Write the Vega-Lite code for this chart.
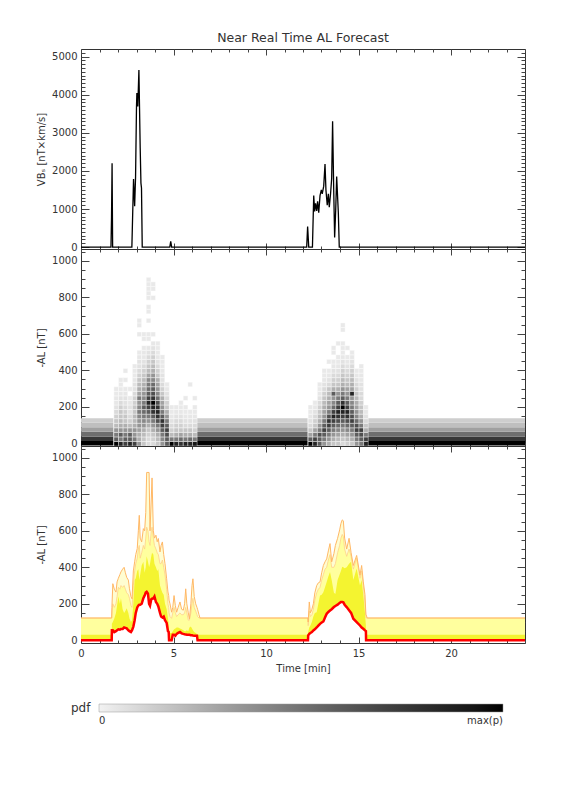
{
"$schema": "https://vega.github.io/schema/vega-lite/v6.json",
"autosize": {"type": "none"},
"padding": {"left": 81, "top": 49, "right": 495, "bottom": 743},
"background": "white",
"bounds": "flush",
"spacing": 0,
"config": {
  "view": {"stroke": "#333", "strokeWidth": 1},
  "axis": {"domain": false, "grid": false, "labelFont": "DejaVu Sans", "labelFontSize": 10, "labelColor": "#333", "tickColor": "#444", "tickWidth": 1, "titleFont": "DejaVu Sans", "titleFontSize": 10, "titleFontWeight": "normal", "titleColor": "#333", "labelOverlap": false, "labelFlush": false}
},
"vconcat": [
{
  "width": 444, "height": 200,
  "title": {"text": "Near Real Time AL Forecast", "font": "DejaVu Sans", "fontSize": 12.5, "fontWeight": "normal", "color": "#333", "anchor": "middle", "frame": "group", "offset": 3},
  "data": {"values": [
    {"t":0,"v":0},{"t":1.62,"v":0},{"t":1.65,"v":780},{"t":1.68,"v":2200},{"t":1.71,"v":0},
    {"t":2.75,"v":0},{"t":2.84,"v":1790},{"t":2.9,"v":1070},{"t":2.95,"v":1850},{"t":3.0,"v":3700},{"t":3.02,"v":4045},{"t":3.07,"v":3690},{"t":3.13,"v":4650},{"t":3.2,"v":2600},{"t":3.24,"v":1680},{"t":3.27,"v":1550},{"t":3.31,"v":0},
    {"t":4.8,"v":0},{"t":4.85,"v":150},{"t":4.9,"v":0},
    {"t":12.2,"v":0},{"t":12.25,"v":540},{"t":12.31,"v":0},{"t":12.51,"v":0},{"t":12.58,"v":1356},{"t":12.63,"v":936},{"t":12.68,"v":1150},{"t":12.74,"v":950},{"t":12.79,"v":1200},{"t":12.85,"v":900},{"t":12.92,"v":1350},{"t":12.99,"v":1500},{"t":13.04,"v":1400},{"t":13.12,"v":1600},{"t":13.19,"v":2180},{"t":13.24,"v":1500},{"t":13.31,"v":1100},{"t":13.37,"v":1400},{"t":13.42,"v":1050},{"t":13.49,"v":1400},{"t":13.55,"v":1800},{"t":13.6,"v":3300},{"t":13.66,"v":1500},{"t":13.71,"v":250},{"t":13.77,"v":1000},{"t":13.82,"v":1850},{"t":13.91,"v":900},{"t":13.96,"v":0},{"t":24,"v":0}
  ]},
  "layer": [
    {"mark": {"type": "line", "color": "#000", "strokeWidth": 1.3, "clip": true},
     "encoding": {
       "x": {"field": "t", "type": "quantitative", "scale": {"domain": [0, 24], "nice": false, "zero": false},
             "axis": {"orient": "bottom", "values": [0,1,2,3,4,5,6,7,8,9,10,11,12,13,14,15,16,17,18,19,20,21,22,23,24], "labels": false, "title": null, "tickSize": {"condition": {"test": "datum.value % 5 === 0", "value": -6}, "value": -3}}},
       "y": {"field": "v", "type": "quantitative", "scale": {"domain": [-50, 5200], "nice": false, "zero": false},
             "axis": {"orient": "left", "values": [0,100,200,300,400,500,600,700,800,900,1000,1100,1200,1300,1400,1500,1600,1700,1800,1900,2000,2100,2200,2300,2400,2500,2600,2700,2800,2900,3000,3100,3200,3300,3400,3500,3600,3700,3800,3900,4000,4100,4200,4300,4400,4500,4600,4700,4800,4900,5000,5100], "format": "d", "labelExpr": "datum.value % 1000 === 0 ? datum.label : ''", "labelPadding": 12, "title": "VBₛ [nT×km/s]", "titlePadding": 5, "tickSize": {"condition": {"test": "datum.value % 1000 === 0", "value": -8}, "value": -4}}}
     }},
    {"mark": {"type": "point", "opacity": 0},
     "encoding": {
       "x": {"field": "t", "type": "quantitative",
             "axis": {"orient": "top", "values": [0,1,2,3,4,5,6,7,8,9,10,11,12,13,14,15,16,17,18,19,20,21,22,23,24], "labels": false, "title": null, "tickSize": {"condition": {"test": "datum.value % 5 === 0", "value": -6}, "value": -3}}},
       "y": {"field": "v", "type": "quantitative",
             "axis": {"orient": "right", "values": [0,100,200,300,400,500,600,700,800,900,1000,1100,1200,1300,1400,1500,1600,1700,1800,1900,2000,2100,2200,2300,2400,2500,2600,2700,2800,2900,3000,3100,3200,3300,3400,3500,3600,3700,3800,3900,4000,4100,4200,4300,4400,4500,4600,4700,4800,4900,5000,5100], "labels": false, "title": null, "tickSize": {"condition": {"test": "datum.value % 1000 === 0", "value": -8}, "value": -4}}}
     }}
  ],
  "resolve": {"axis": {"x": "independent", "y": "independent"}}
},
{
  "width": 444, "height": 197,
  "layer": [
    {"data": {"values": [
      {"t0":0,"t1":1.75,"a0":-12.5,"a1":12.5,"p":1},{"t0":0,"t1":1.75,"a0":12.5,"a1":37.5,"p":0.83},{"t0":0,"t1":1.75,"a0":37.5,"a1":62.5,"p":0.64},{"t0":0,"t1":1.75,"a0":62.5,"a1":87.5,"p":0.46},{"t0":0,"t1":1.75,"a0":87.5,"a1":112.5,"p":0.33},{"t0":0,"t1":1.75,"a0":112.5,"a1":137.5,"p":0.26},
      {"t0":6.25,"t1":12.25,"a0":-12.5,"a1":12.5,"p":1},{"t0":6.25,"t1":12.25,"a0":12.5,"a1":37.5,"p":0.83},{"t0":6.25,"t1":12.25,"a0":37.5,"a1":62.5,"p":0.64},{"t0":6.25,"t1":12.25,"a0":62.5,"a1":87.5,"p":0.46},{"t0":6.25,"t1":12.25,"a0":87.5,"a1":112.5,"p":0.33},{"t0":6.25,"t1":12.25,"a0":112.5,"a1":137.5,"p":0.26},
      {"t0":15.5,"t1":24,"a0":-12.5,"a1":12.5,"p":1},{"t0":15.5,"t1":24,"a0":12.5,"a1":37.5,"p":0.83},{"t0":15.5,"t1":24,"a0":37.5,"a1":62.5,"p":0.64},{"t0":15.5,"t1":24,"a0":62.5,"a1":87.5,"p":0.46},{"t0":15.5,"t1":24,"a0":87.5,"a1":112.5,"p":0.33},{"t0":15.5,"t1":24,"a0":112.5,"a1":137.5,"p":0.26}
     ]},
     "mark": {"type": "rect", "clip": true},
     "encoding": {
       "x": {"field": "t0", "type": "quantitative", "scale": {"domain": [0, 24], "nice": false, "zero": false},
             "axis": {"orient": "bottom", "values": [0,1,2,3,4,5,6,7,8,9,10,11,12,13,14,15,16,17,18,19,20,21,22,23,24], "labels": false, "title": null, "tickSize": {"condition": {"test": "datum.value % 5 === 0", "value": -6}, "value": -3}}},
       "x2": {"field": "t1"},
       "y": {"field": "a0", "type": "quantitative", "scale": {"domain": [-15, 1065], "nice": false, "zero": false},
             "axis": {"orient": "left", "values": [0,50,100,150,200,250,300,350,400,450,500,550,600,650,700,750,800,850,900,950,1000,1050], "format": "d", "labelExpr": "datum.value % 200 === 0 ? datum.label : ''", "labelPadding": 12, "title": "-AL [nT]", "titlePadding": 5, "tickSize": {"condition": {"test": "datum.value % 200 === 0", "value": -8}, "value": -4}}},
       "y2": {"field": "a1"},
       "color": {"field": "p", "type": "quantitative", "scale": {"type": "pow", "exponent": 1.5, "domain": [0, 1], "range": ["#f2f2f2", "#000000"]},
                 "legend": {"title": "pdf", "orient": "none", "legendX": -10, "legendY": 655, "direction": "horizontal", "gradientLength": 404, "gradientThickness": 8, "titleOrient": "left", "titleFont": "DejaVu Sans", "titleFontSize": 12, "titleFontWeight": "normal", "titleColor": "#333", "titlePadding": 8, "labelFont": "DejaVu Sans", "labelFontSize": 10, "labelColor": "#333", "values": [0, 1], "labelExpr": "datum.value == 0 ? '0' : 'max(p)'", "gradientStrokeColor": "#999", "gradientStrokeWidth": 0.5, "labelOffset": 4}}
     }},
    {"data": {"values": [
      {"t":1.85,"a":0,"p":1},{"t":1.85,"a":25,"p":0.7},{"t":1.85,"a":50,"p":0.6},{"t":1.85,"a":75,"p":0.5},{"t":1.85,"a":100,"p":0.35},{"t":1.85,"a":125,"p":0.3},{"t":1.85,"a":150,"p":0.25},{"t":1.85,"a":175,"p":0.2},{"t":1.85,"a":200,"p":0.15},{"t":1.85,"a":225,"p":0.12},{"t":1.85,"a":250,"p":0.12},{"t":1.85,"a":275,"p":0.1},{"t":1.85,"a":300,"p":0.1},
      {"t":2.1,"a":0,"p":0.9},{"t":2.1,"a":25,"p":0.6},{"t":2.1,"a":50,"p":0.7},{"t":2.1,"a":75,"p":0.5},{"t":2.1,"a":100,"p":0.4},{"t":2.1,"a":125,"p":0.35},{"t":2.1,"a":150,"p":0.3},{"t":2.1,"a":175,"p":0.3},{"t":2.1,"a":200,"p":0.25},{"t":2.1,"a":225,"p":0.2},{"t":2.1,"a":250,"p":0.15},{"t":2.1,"a":275,"p":0.12},{"t":2.1,"a":300,"p":0.1},{"t":2.1,"a":325,"p":0.1},{"t":2.1,"a":350,"p":0.1},
      {"t":2.35,"a":0,"p":0.8},{"t":2.35,"a":25,"p":0.7},{"t":2.35,"a":50,"p":0.6},{"t":2.35,"a":75,"p":0.5},{"t":2.35,"a":100,"p":0.4},{"t":2.35,"a":125,"p":0.3},{"t":2.35,"a":150,"p":0.3},{"t":2.35,"a":175,"p":0.25},{"t":2.35,"a":200,"p":0.2},{"t":2.35,"a":225,"p":0.15},{"t":2.35,"a":250,"p":0.15},{"t":2.35,"a":275,"p":0.12},{"t":2.35,"a":300,"p":0.1},{"t":2.35,"a":350,"p":0.1},{"t":2.35,"a":400,"p":0.1},
      {"t":2.6,"a":0,"p":0.9},{"t":2.6,"a":25,"p":0.7},{"t":2.6,"a":50,"p":0.7},{"t":2.6,"a":75,"p":0.5},{"t":2.6,"a":100,"p":0.35},{"t":2.6,"a":125,"p":0.25},{"t":2.6,"a":150,"p":0.2},{"t":2.6,"a":175,"p":0.15},{"t":2.6,"a":200,"p":0.15},{"t":2.6,"a":225,"p":0.12},{"t":2.6,"a":250,"p":0.1},{"t":2.6,"a":300,"p":0.1},
      {"t":2.85,"a":0,"p":0.8},{"t":2.85,"a":25,"p":0.6},{"t":2.85,"a":50,"p":0.5},{"t":2.85,"a":75,"p":0.5},{"t":2.85,"a":100,"p":0.4},{"t":2.85,"a":125,"p":0.35},{"t":2.85,"a":150,"p":0.35},{"t":2.85,"a":175,"p":0.3},{"t":2.85,"a":200,"p":0.3},{"t":2.85,"a":225,"p":0.25},{"t":2.85,"a":250,"p":0.25},{"t":2.85,"a":275,"p":0.2},{"t":2.85,"a":300,"p":0.15},{"t":2.85,"a":325,"p":0.15},{"t":2.85,"a":350,"p":0.12},{"t":2.85,"a":375,"p":0.1},{"t":2.85,"a":400,"p":0.1},{"t":2.85,"a":425,"p":0.1},
      {"t":3.1,"a":0,"p":0.5},{"t":3.1,"a":25,"p":0.4},{"t":3.1,"a":50,"p":0.4},{"t":3.1,"a":75,"p":0.45},{"t":3.1,"a":100,"p":0.5},{"t":3.1,"a":125,"p":0.5},{"t":3.1,"a":150,"p":0.55},{"t":3.1,"a":175,"p":0.6},{"t":3.1,"a":200,"p":0.55},{"t":3.1,"a":225,"p":0.5},{"t":3.1,"a":250,"p":0.6},{"t":3.1,"a":275,"p":0.45},{"t":3.1,"a":300,"p":0.4},{"t":3.1,"a":325,"p":0.35},{"t":3.1,"a":350,"p":0.3},{"t":3.1,"a":375,"p":0.25},{"t":3.1,"a":400,"p":0.2},{"t":3.1,"a":425,"p":0.15},{"t":3.1,"a":450,"p":0.15},{"t":3.1,"a":475,"p":0.12},{"t":3.1,"a":500,"p":0.1},{"t":3.1,"a":600,"p":0.1},{"t":3.1,"a":650,"p":0.1},{"t":3.1,"a":675,"p":0.1},
      {"t":3.35,"a":0,"p":0.3},{"t":3.35,"a":25,"p":0.3},{"t":3.35,"a":50,"p":0.35},{"t":3.35,"a":75,"p":0.4},{"t":3.35,"a":100,"p":0.5},{"t":3.35,"a":125,"p":0.55},{"t":3.35,"a":150,"p":0.6},{"t":3.35,"a":175,"p":0.65},{"t":3.35,"a":200,"p":0.7},{"t":3.35,"a":225,"p":0.6},{"t":3.35,"a":250,"p":0.55},{"t":3.35,"a":275,"p":0.5},{"t":3.35,"a":300,"p":0.45},{"t":3.35,"a":325,"p":0.4},{"t":3.35,"a":350,"p":0.35},{"t":3.35,"a":375,"p":0.3},{"t":3.35,"a":400,"p":0.25},{"t":3.35,"a":425,"p":0.2},{"t":3.35,"a":450,"p":0.15},{"t":3.35,"a":475,"p":0.12},{"t":3.35,"a":500,"p":0.12},{"t":3.35,"a":525,"p":0.1},{"t":3.35,"a":575,"p":0.1},{"t":3.35,"a":600,"p":0.1},
      {"t":3.6,"a":0,"p":0.2},{"t":3.6,"a":25,"p":0.2},{"t":3.6,"a":50,"p":0.25},{"t":3.6,"a":75,"p":0.3},{"t":3.6,"a":100,"p":0.4},{"t":3.6,"a":125,"p":0.5},{"t":3.6,"a":150,"p":0.6},{"t":3.6,"a":175,"p":0.7},{"t":3.6,"a":200,"p":0.8},{"t":3.6,"a":225,"p":0.9},{"t":3.6,"a":250,"p":0.8},{"t":3.6,"a":275,"p":0.7},{"t":3.6,"a":300,"p":0.65},{"t":3.6,"a":325,"p":0.6},{"t":3.6,"a":350,"p":0.55},{"t":3.6,"a":375,"p":0.45},{"t":3.6,"a":400,"p":0.35},{"t":3.6,"a":425,"p":0.3},{"t":3.6,"a":450,"p":0.25},{"t":3.6,"a":475,"p":0.2},{"t":3.6,"a":500,"p":0.15},{"t":3.6,"a":525,"p":0.12},{"t":3.6,"a":575,"p":0.1},{"t":3.6,"a":600,"p":0.1},{"t":3.6,"a":675,"p":0.1},{"t":3.6,"a":725,"p":0.1},{"t":3.6,"a":750,"p":0.1},{"t":3.6,"a":800,"p":0.1},{"t":3.6,"a":825,"p":0.1},{"t":3.6,"a":850,"p":0.1},{"t":3.6,"a":875,"p":0.1},{"t":3.6,"a":900,"p":0.1},
      {"t":3.85,"a":0,"p":0.2},{"t":3.85,"a":25,"p":0.25},{"t":3.85,"a":50,"p":0.3},{"t":3.85,"a":75,"p":0.4},{"t":3.85,"a":100,"p":0.5},{"t":3.85,"a":125,"p":0.6},{"t":3.85,"a":150,"p":0.7},{"t":3.85,"a":175,"p":0.85},{"t":3.85,"a":200,"p":0.9},{"t":3.85,"a":225,"p":1},{"t":3.85,"a":250,"p":0.85},{"t":3.85,"a":275,"p":0.75},{"t":3.85,"a":300,"p":0.7},{"t":3.85,"a":325,"p":0.65},{"t":3.85,"a":350,"p":0.55},{"t":3.85,"a":375,"p":0.5},{"t":3.85,"a":400,"p":0.4},{"t":3.85,"a":425,"p":0.35},{"t":3.85,"a":450,"p":0.3},{"t":3.85,"a":475,"p":0.25},{"t":3.85,"a":500,"p":0.2},{"t":3.85,"a":525,"p":0.15},{"t":3.85,"a":550,"p":0.12},{"t":3.85,"a":600,"p":0.1},{"t":3.85,"a":800,"p":0.1},{"t":3.85,"a":850,"p":0.1},{"t":3.85,"a":875,"p":0.1},
      {"t":4.1,"a":0,"p":0.3},{"t":4.1,"a":25,"p":0.35},{"t":4.1,"a":50,"p":0.4},{"t":4.1,"a":75,"p":0.5},{"t":4.1,"a":100,"p":0.6},{"t":4.1,"a":125,"p":0.75},{"t":4.1,"a":150,"p":0.85},{"t":4.1,"a":175,"p":0.9},{"t":4.1,"a":200,"p":0.85},{"t":4.1,"a":225,"p":0.75},{"t":4.1,"a":250,"p":0.65},{"t":4.1,"a":275,"p":0.55},{"t":4.1,"a":300,"p":0.5},{"t":4.1,"a":325,"p":0.45},{"t":4.1,"a":350,"p":0.4},{"t":4.1,"a":375,"p":0.3},{"t":4.1,"a":400,"p":0.25},{"t":4.1,"a":425,"p":0.2},{"t":4.1,"a":450,"p":0.15},{"t":4.1,"a":475,"p":0.12},{"t":4.1,"a":500,"p":0.1},{"t":4.1,"a":525,"p":0.1},{"t":4.1,"a":550,"p":0.1},
      {"t":4.35,"a":0,"p":0.5},{"t":4.35,"a":25,"p":0.55},{"t":4.35,"a":50,"p":0.6},{"t":4.35,"a":75,"p":0.7},{"t":4.35,"a":100,"p":0.8},{"t":4.35,"a":125,"p":0.85},{"t":4.35,"a":150,"p":0.7},{"t":4.35,"a":175,"p":0.6},{"t":4.35,"a":200,"p":0.5},{"t":4.35,"a":225,"p":0.45},{"t":4.35,"a":250,"p":0.4},{"t":4.35,"a":275,"p":0.3},{"t":4.35,"a":300,"p":0.25},{"t":4.35,"a":325,"p":0.2},{"t":4.35,"a":350,"p":0.15},{"t":4.35,"a":375,"p":0.15},{"t":4.35,"a":400,"p":0.12},{"t":4.35,"a":425,"p":0.1},{"t":4.35,"a":450,"p":0.1},{"t":4.35,"a":475,"p":0.1},
      {"t":4.6,"a":0,"p":0.7},{"t":4.6,"a":25,"p":0.7},{"t":4.6,"a":50,"p":0.75},{"t":4.6,"a":75,"p":0.8},{"t":4.6,"a":100,"p":0.7},{"t":4.6,"a":125,"p":0.6},{"t":4.6,"a":150,"p":0.5},{"t":4.6,"a":175,"p":0.4},{"t":4.6,"a":200,"p":0.3},{"t":4.6,"a":225,"p":0.25},{"t":4.6,"a":250,"p":0.2},{"t":4.6,"a":275,"p":0.15},{"t":4.6,"a":300,"p":0.12},{"t":4.6,"a":325,"p":0.1},
      {"t":4.85,"a":0,"p":1},{"t":4.85,"a":25,"p":0.6},{"t":4.85,"a":50,"p":0.35},{"t":4.85,"a":75,"p":0.25},{"t":4.85,"a":100,"p":0.2},{"t":4.85,"a":125,"p":0.15},{"t":4.85,"a":150,"p":0.12},{"t":4.85,"a":175,"p":0.1},{"t":4.85,"a":200,"p":0.1},
      {"t":5.1,"a":0,"p":0.9},{"t":5.1,"a":25,"p":0.6},{"t":5.1,"a":50,"p":0.4},{"t":5.1,"a":75,"p":0.3},{"t":5.1,"a":100,"p":0.25},{"t":5.1,"a":125,"p":0.2},{"t":5.1,"a":150,"p":0.15},{"t":5.1,"a":175,"p":0.12},{"t":5.1,"a":200,"p":0.1},
      {"t":5.35,"a":0,"p":0.85},{"t":5.35,"a":25,"p":0.65},{"t":5.35,"a":50,"p":0.45},{"t":5.35,"a":75,"p":0.3},{"t":5.35,"a":100,"p":0.25},{"t":5.35,"a":125,"p":0.2},{"t":5.35,"a":150,"p":0.15},{"t":5.35,"a":175,"p":0.12},{"t":5.35,"a":200,"p":0.1},{"t":5.35,"a":225,"p":0.1},
      {"t":5.6,"a":0,"p":0.9},{"t":5.6,"a":25,"p":0.6},{"t":5.6,"a":50,"p":0.4},{"t":5.6,"a":75,"p":0.3},{"t":5.6,"a":100,"p":0.2},{"t":5.6,"a":125,"p":0.15},{"t":5.6,"a":150,"p":0.12},{"t":5.6,"a":175,"p":0.1},{"t":5.6,"a":200,"p":0.1},{"t":5.6,"a":250,"p":0.1},
      {"t":5.85,"a":0,"p":0.9},{"t":5.85,"a":25,"p":0.65},{"t":5.85,"a":50,"p":0.4},{"t":5.85,"a":75,"p":0.3},{"t":5.85,"a":100,"p":0.2},{"t":5.85,"a":125,"p":0.15},{"t":5.85,"a":150,"p":0.12},{"t":5.85,"a":175,"p":0.1},{"t":5.85,"a":325,"p":0.1},
      {"t":6.1,"a":0,"p":0.95},{"t":6.1,"a":25,"p":0.6},{"t":6.1,"a":50,"p":0.35},{"t":6.1,"a":75,"p":0.25},{"t":6.1,"a":100,"p":0.2},{"t":6.1,"a":125,"p":0.15},{"t":6.1,"a":150,"p":0.12},{"t":6.1,"a":175,"p":0.1},{"t":6.1,"a":200,"p":0.1},{"t":6.1,"a":250,"p":0.1},
      {"t":12.35,"a":0,"p":1},{"t":12.35,"a":25,"p":0.7},{"t":12.35,"a":50,"p":0.45},{"t":12.35,"a":75,"p":0.3},{"t":12.35,"a":100,"p":0.2},{"t":12.35,"a":125,"p":0.15},{"t":12.35,"a":150,"p":0.12},{"t":12.35,"a":175,"p":0.1},{"t":12.35,"a":200,"p":0.1},
      {"t":12.6,"a":0,"p":0.9},{"t":12.6,"a":25,"p":0.8},{"t":12.6,"a":50,"p":0.6},{"t":12.6,"a":75,"p":0.45},{"t":12.6,"a":100,"p":0.3},{"t":12.6,"a":125,"p":0.25},{"t":12.6,"a":150,"p":0.2},{"t":12.6,"a":175,"p":0.15},{"t":12.6,"a":200,"p":0.12},{"t":12.6,"a":225,"p":0.1},
      {"t":12.85,"a":0,"p":0.7},{"t":12.85,"a":25,"p":0.7},{"t":12.85,"a":50,"p":0.75},{"t":12.85,"a":75,"p":0.6},{"t":12.85,"a":100,"p":0.5},{"t":12.85,"a":125,"p":0.4},{"t":12.85,"a":150,"p":0.35},{"t":12.85,"a":175,"p":0.3},{"t":12.85,"a":200,"p":0.25},{"t":12.85,"a":225,"p":0.2},{"t":12.85,"a":250,"p":0.15},{"t":12.85,"a":275,"p":0.12},{"t":12.85,"a":300,"p":0.1},{"t":12.85,"a":325,"p":0.1},
      {"t":13.1,"a":0,"p":0.5},{"t":13.1,"a":25,"p":0.6},{"t":13.1,"a":50,"p":0.7},{"t":13.1,"a":75,"p":0.8},{"t":13.1,"a":100,"p":0.7},{"t":13.1,"a":125,"p":0.6},{"t":13.1,"a":150,"p":0.5},{"t":13.1,"a":175,"p":0.45},{"t":13.1,"a":200,"p":0.4},{"t":13.1,"a":225,"p":0.35},{"t":13.1,"a":250,"p":0.3},{"t":13.1,"a":275,"p":0.25},{"t":13.1,"a":300,"p":0.2},{"t":13.1,"a":325,"p":0.15},{"t":13.1,"a":350,"p":0.12},{"t":13.1,"a":375,"p":0.1},{"t":13.1,"a":400,"p":0.1},
      {"t":13.35,"a":0,"p":0.4},{"t":13.35,"a":25,"p":0.5},{"t":13.35,"a":50,"p":0.6},{"t":13.35,"a":75,"p":0.7},{"t":13.35,"a":100,"p":0.8},{"t":13.35,"a":125,"p":0.85},{"t":13.35,"a":150,"p":0.75},{"t":13.35,"a":175,"p":0.6},{"t":13.35,"a":200,"p":0.5},{"t":13.35,"a":225,"p":0.45},{"t":13.35,"a":250,"p":0.4},{"t":13.35,"a":275,"p":0.35},{"t":13.35,"a":300,"p":0.3},{"t":13.35,"a":325,"p":0.2},{"t":13.35,"a":350,"p":0.15},{"t":13.35,"a":375,"p":0.12},{"t":13.35,"a":400,"p":0.1},{"t":13.35,"a":450,"p":0.1},
      {"t":13.6,"a":0,"p":0.3},{"t":13.6,"a":25,"p":0.4},{"t":13.6,"a":50,"p":0.5},{"t":13.6,"a":75,"p":0.6},{"t":13.6,"a":100,"p":0.7},{"t":13.6,"a":125,"p":0.8},{"t":13.6,"a":150,"p":0.9},{"t":13.6,"a":175,"p":0.8},{"t":13.6,"a":200,"p":0.65},{"t":13.6,"a":225,"p":0.55},{"t":13.6,"a":250,"p":0.5},{"t":13.6,"a":275,"p":0.7},{"t":13.6,"a":300,"p":0.4},{"t":13.6,"a":325,"p":0.3},{"t":13.6,"a":350,"p":0.25},{"t":13.6,"a":375,"p":0.2},{"t":13.6,"a":400,"p":0.15},{"t":13.6,"a":425,"p":0.12},{"t":13.6,"a":450,"p":0.1},{"t":13.6,"a":500,"p":0.1},{"t":13.6,"a":525,"p":0.1},
      {"t":13.85,"a":0,"p":0.3},{"t":13.85,"a":25,"p":0.35},{"t":13.85,"a":50,"p":0.45},{"t":13.85,"a":75,"p":0.55},{"t":13.85,"a":100,"p":0.65},{"t":13.85,"a":125,"p":0.75},{"t":13.85,"a":150,"p":0.85},{"t":13.85,"a":175,"p":0.9},{"t":13.85,"a":200,"p":0.8},{"t":13.85,"a":225,"p":0.7},{"t":13.85,"a":250,"p":0.6},{"t":13.85,"a":275,"p":0.5},{"t":13.85,"a":300,"p":0.4},{"t":13.85,"a":325,"p":0.3},{"t":13.85,"a":350,"p":0.25},{"t":13.85,"a":375,"p":0.2},{"t":13.85,"a":400,"p":0.15},{"t":13.85,"a":425,"p":0.12},{"t":13.85,"a":450,"p":0.1},{"t":13.85,"a":475,"p":0.1},{"t":13.85,"a":550,"p":0.1},
      {"t":14.1,"a":0,"p":0.2},{"t":14.1,"a":25,"p":0.3},{"t":14.1,"a":50,"p":0.4},{"t":14.1,"a":75,"p":0.5},{"t":14.1,"a":100,"p":0.6},{"t":14.1,"a":125,"p":0.7},{"t":14.1,"a":150,"p":0.8},{"t":14.1,"a":175,"p":0.9},{"t":14.1,"a":200,"p":1},{"t":14.1,"a":225,"p":0.85},{"t":14.1,"a":250,"p":0.7},{"t":14.1,"a":275,"p":0.6},{"t":14.1,"a":300,"p":0.5},{"t":14.1,"a":325,"p":0.4},{"t":14.1,"a":350,"p":0.35},{"t":14.1,"a":375,"p":0.3},{"t":14.1,"a":400,"p":0.25},{"t":14.1,"a":425,"p":0.2},{"t":14.1,"a":450,"p":0.15},{"t":14.1,"a":475,"p":0.12},{"t":14.1,"a":500,"p":0.1},{"t":14.1,"a":525,"p":0.1},{"t":14.1,"a":550,"p":0.1},{"t":14.1,"a":625,"p":0.1},{"t":14.1,"a":650,"p":0.1},
      {"t":14.35,"a":0,"p":0.25},{"t":14.35,"a":25,"p":0.35},{"t":14.35,"a":50,"p":0.45},{"t":14.35,"a":75,"p":0.55},{"t":14.35,"a":100,"p":0.65},{"t":14.35,"a":125,"p":0.75},{"t":14.35,"a":150,"p":0.85},{"t":14.35,"a":175,"p":0.9},{"t":14.35,"a":200,"p":0.8},{"t":14.35,"a":225,"p":0.7},{"t":14.35,"a":250,"p":0.6},{"t":14.35,"a":275,"p":0.5},{"t":14.35,"a":300,"p":0.45},{"t":14.35,"a":325,"p":0.35},{"t":14.35,"a":350,"p":0.3},{"t":14.35,"a":375,"p":0.25},{"t":14.35,"a":400,"p":0.2},{"t":14.35,"a":425,"p":0.15},{"t":14.35,"a":450,"p":0.12},{"t":14.35,"a":475,"p":0.1},{"t":14.35,"a":525,"p":0.1},
      {"t":14.6,"a":0,"p":0.3},{"t":14.6,"a":25,"p":0.4},{"t":14.6,"a":50,"p":0.5},{"t":14.6,"a":75,"p":0.6},{"t":14.6,"a":100,"p":0.7},{"t":14.6,"a":125,"p":0.8},{"t":14.6,"a":150,"p":0.75},{"t":14.6,"a":175,"p":0.7},{"t":14.6,"a":200,"p":0.6},{"t":14.6,"a":225,"p":0.55},{"t":14.6,"a":250,"p":0.5},{"t":14.6,"a":275,"p":0.9},{"t":14.6,"a":300,"p":0.45},{"t":14.6,"a":325,"p":0.4},{"t":14.6,"a":350,"p":0.35},{"t":14.6,"a":375,"p":0.3},{"t":14.6,"a":400,"p":0.25},{"t":14.6,"a":425,"p":0.2},{"t":14.6,"a":450,"p":0.15},{"t":14.6,"a":475,"p":0.12},{"t":14.6,"a":500,"p":0.1},
      {"t":14.85,"a":0,"p":0.5},{"t":14.85,"a":25,"p":0.6},{"t":14.85,"a":50,"p":0.7},{"t":14.85,"a":75,"p":0.8},{"t":14.85,"a":100,"p":0.75},{"t":14.85,"a":125,"p":0.65},{"t":14.85,"a":150,"p":0.55},{"t":14.85,"a":175,"p":0.5},{"t":14.85,"a":200,"p":0.45},{"t":14.85,"a":225,"p":0.4},{"t":14.85,"a":250,"p":0.35},{"t":14.85,"a":275,"p":0.3},{"t":14.85,"a":300,"p":0.25},{"t":14.85,"a":325,"p":0.2},{"t":14.85,"a":350,"p":0.15},{"t":14.85,"a":375,"p":0.12},{"t":14.85,"a":400,"p":0.1},
      {"t":15.1,"a":0,"p":0.6},{"t":15.1,"a":25,"p":0.7},{"t":15.1,"a":50,"p":0.75},{"t":15.1,"a":75,"p":0.8},{"t":15.1,"a":100,"p":0.6},{"t":15.1,"a":125,"p":0.5},{"t":15.1,"a":150,"p":0.4},{"t":15.1,"a":175,"p":0.35},{"t":15.1,"a":200,"p":0.3},{"t":15.1,"a":225,"p":0.25},{"t":15.1,"a":250,"p":0.2},{"t":15.1,"a":275,"p":0.2},{"t":15.1,"a":300,"p":0.15},{"t":15.1,"a":325,"p":0.15},{"t":15.1,"a":350,"p":0.12},{"t":15.1,"a":375,"p":0.12},{"t":15.1,"a":400,"p":0.1},{"t":15.1,"a":425,"p":0.1},
      {"t":15.35,"a":0,"p":0.9},{"t":15.35,"a":25,"p":0.8},{"t":15.35,"a":50,"p":0.6},{"t":15.35,"a":75,"p":0.4},{"t":15.35,"a":100,"p":0.3},{"t":15.35,"a":125,"p":0.2},{"t":15.35,"a":150,"p":0.15},{"t":15.35,"a":175,"p":0.12},{"t":15.35,"a":200,"p":0.1}
     ]},
     "mark": {"type": "rect", "binSpacing": 0, "clip": true, "stroke": "#ffffff", "strokeWidth": 0.4},
     "encoding": {
       "x": {"field": "t", "type": "quantitative", "bin": {"step": 0.25, "extent": [0, 24], "nice": false, "anchor": 0}, "axis": null},
       "y": {"field": "a", "type": "quantitative", "bin": {"step": 25, "extent": [-12.5, 1087.5], "nice": false, "anchor": -12.5}, "axis": null},
       "color": {"field": "p", "type": "quantitative", "scale": {"type": "pow", "exponent": 1.5, "domain": [0, 1], "range": ["#f2f2f2", "#000000"]},
                 "legend": {"title": "pdf", "orient": "none", "legendX": -10, "legendY": 655, "direction": "horizontal", "gradientLength": 404, "gradientThickness": 8, "titleOrient": "left", "titleFont": "DejaVu Sans", "titleFontSize": 12, "titleFontWeight": "normal", "titleColor": "#333", "titlePadding": 8, "labelFont": "DejaVu Sans", "labelFontSize": 10, "labelColor": "#333", "values": [0, 1], "labelExpr": "datum.value == 0 ? '0' : 'max(p)'", "gradientStrokeColor": "#999", "gradientStrokeWidth": 0.5, "labelOffset": 4}}
     }},
    {"data": {"values": [{"t0":0,"a0":0},{"t0":24,"a0":0}]},
     "mark": {"type": "point", "opacity": 0},
     "encoding": {
       "x": {"field": "t0", "type": "quantitative",
             "axis": {"orient": "top", "values": [0,1,2,3,4,5,6,7,8,9,10,11,12,13,14,15,16,17,18,19,20,21,22,23,24], "labels": false, "title": null, "tickSize": {"condition": {"test": "datum.value % 5 === 0", "value": -6}, "value": -3}}},
       "y": {"field": "a0", "type": "quantitative",
             "axis": {"orient": "right", "values": [0,50,100,150,200,250,300,350,400,450,500,550,600,650,700,750,800,850,900,950,1000,1050], "labels": false, "title": null, "tickSize": {"condition": {"test": "datum.value % 200 === 0", "value": -8}, "value": -4}}}
     }}
  ],
  "resolve": {"axis": {"x": "independent", "y": "independent"}}
},
{
  "width": 444, "height": 197,
  "data": {"values": [
    {"t":0,"med":0,"q75":30,"q90":122,"mx":122},{"t":1.66,"med":0,"q75":30,"q90":122,"mx":122},
    {"t":1.67,"med":55,"q75":90,"q90":150,"mx":180},{"t":1.72,"med":55,"q75":100,"q90":200,"mx":310},{"t":1.8,"med":45,"q75":120,"q90":180,"mx":280},{"t":1.89,"med":50,"q75":150,"q90":200,"mx":264},{"t":1.95,"med":55,"q75":190,"q90":240,"mx":320},{"t":2.02,"med":60,"q75":240,"q90":290,"mx":340},{"t":2.1,"med":58,"q75":200,"q90":280,"mx":360},{"t":2.16,"med":62,"q75":230,"q90":300,"mx":375},{"t":2.25,"med":62,"q75":170,"q90":290,"mx":390},{"t":2.33,"med":70,"q75":150,"q90":300,"mx":400},{"t":2.4,"med":68,"q75":160,"q90":280,"mx":370},{"t":2.47,"med":65,"q75":175,"q90":260,"mx":345},{"t":2.56,"med":55,"q75":150,"q90":250,"mx":330},{"t":2.62,"med":50,"q75":120,"q90":230,"mx":282},{"t":2.7,"med":45,"q75":100,"q90":190,"mx":240},{"t":2.76,"med":55,"q75":110,"q90":180,"mx":227},{"t":2.83,"med":75,"q75":200,"q90":300,"mx":380},{"t":2.9,"med":110,"q75":330,"q90":380,"mx":430},{"t":2.96,"med":150,"q75":340,"q90":420,"mx":470},{"t":3.04,"med":180,"q75":380,"q90":450,"mx":503},{"t":3.1,"med":190,"q75":390,"q90":500,"mx":600},{"t":3.15,"med":195,"q75":330,"q90":520,"mx":685},{"t":3.2,"med":195,"q75":360,"q90":450,"mx":560},{"t":3.28,"med":200,"q75":410,"q90":480,"mx":539},{"t":3.37,"med":230,"q75":430,"q90":520,"mx":612},{"t":3.44,"med":245,"q75":370,"q90":500,"mx":600},{"t":3.5,"med":262,"q75":400,"q90":560,"mx":700},{"t":3.55,"med":266,"q75":460,"q90":620,"mx":920},{"t":3.62,"med":255,"q75":430,"q90":600,"mx":920},{"t":3.68,"med":200,"q75":400,"q90":540,"mx":920},{"t":3.73,"med":190,"q75":420,"q90":520,"mx":600},{"t":3.8,"med":225,"q75":460,"q90":600,"mx":780},{"t":3.84,"med":228,"q75":480,"q90":620,"mx":890},{"t":3.91,"med":230,"q75":470,"q90":560,"mx":600},{"t":3.97,"med":240,"q75":420,"q90":520,"mx":560},{"t":4.05,"med":210,"q75":400,"q90":500,"mx":576},{"t":4.12,"med":200,"q75":380,"q90":480,"mx":540},{"t":4.18,"med":185,"q75":390,"q90":470,"mx":558},{"t":4.27,"med":150,"q75":300,"q90":420,"mx":484},{"t":4.33,"med":130,"q75":280,"q90":420,"mx":520},{"t":4.4,"med":125,"q75":260,"q90":440,"mx":539},{"t":4.47,"med":130,"q75":250,"q90":400,"mx":470},{"t":4.54,"med":110,"q75":200,"q90":360,"mx":420},{"t":4.63,"med":95,"q75":170,"q90":280,"mx":337},{"t":4.7,"med":50,"q75":120,"q90":200,"mx":265},{"t":4.74,"med":45,"q75":90,"q90":180,"mx":245},{"t":4.76,"med":0,"q75":50,"q90":150,"mx":220},{"t":4.81,"med":0,"q75":40,"q90":130,"mx":200},{"t":4.9,"med":0,"q75":40,"q90":120,"mx":154},{"t":4.96,"med":30,"q75":50,"q90":150,"mx":180},{"t":5.03,"med":30,"q75":60,"q90":180,"mx":245},{"t":5.1,"med":25,"q75":65,"q90":150,"mx":190},{"t":5.17,"med":35,"q75":70,"q90":130,"mx":154},{"t":5.25,"med":40,"q75":70,"q90":140,"mx":180},{"t":5.35,"med":45,"q75":65,"q90":150,"mx":210},{"t":5.44,"med":38,"q75":60,"q90":140,"mx":170},{"t":5.53,"med":35,"q75":55,"q90":140,"mx":165},{"t":5.6,"med":33,"q75":50,"q90":150,"mx":200},{"t":5.66,"med":32,"q75":50,"q90":180,"mx":282},{"t":5.72,"med":30,"q75":55,"q90":150,"mx":200},{"t":5.8,"med":30,"q75":50,"q90":110,"mx":150},{"t":5.86,"med":30,"q75":70,"q90":110,"mx":117},{"t":5.94,"med":28,"q75":75,"q90":150,"mx":200},{"t":6.0,"med":27,"q75":65,"q90":200,"mx":300},{"t":6.05,"med":26,"q75":55,"q90":230,"mx":337},{"t":6.12,"med":25,"q75":45,"q90":180,"mx":240},{"t":6.2,"med":25,"q75":40,"q90":160,"mx":200},{"t":6.27,"med":25,"q75":35,"q90":140,"mx":180},{"t":6.3,"med":0,"q75":30,"q90":130,"mx":170},{"t":6.38,"med":0,"q75":30,"q90":122,"mx":140},{"t":6.43,"med":0,"q75":30,"q90":122,"mx":122},
    {"t":12.27,"med":0,"q75":30,"q90":122,"mx":122},{"t":12.28,"med":27,"q75":45,"q90":80,"mx":100},{"t":12.34,"med":35,"q75":70,"q90":160,"mx":210},{"t":12.4,"med":40,"q75":81,"q90":130,"mx":150},{"t":12.48,"med":45,"q75":100,"q90":140,"mx":170},{"t":12.56,"med":54,"q75":130,"q90":170,"mx":200},{"t":12.64,"med":60,"q75":150,"q90":220,"mx":260},{"t":12.74,"med":70,"q75":154,"q90":260,"mx":300},{"t":12.83,"med":80,"q75":200,"q90":280,"mx":315},{"t":12.92,"med":90,"q75":245,"q90":290,"mx":320},{"t":13.01,"med":97,"q75":250,"q90":330,"mx":370},{"t":13.1,"med":103,"q75":263,"q90":360,"mx":410},{"t":13.19,"med":125,"q75":290,"q90":390,"mx":430},{"t":13.28,"med":145,"q75":320,"q90":400,"mx":446},{"t":13.37,"med":155,"q75":350,"q90":440,"mx":490},{"t":13.46,"med":163,"q75":374,"q90":470,"mx":530},{"t":13.55,"med":170,"q75":330,"q90":400,"mx":430},{"t":13.67,"med":182,"q75":260,"q90":400,"mx":475},{"t":13.75,"med":188,"q75":254,"q90":420,"mx":520},{"t":13.87,"med":195,"q75":330,"q90":480,"mx":559},{"t":13.98,"med":205,"q75":360,"q90":520,"mx":605},{"t":14.05,"med":210,"q75":380,"q90":560,"mx":640},{"t":14.12,"med":210,"q75":403,"q90":580,"mx":660},{"t":14.18,"med":208,"q75":400,"q90":570,"mx":655},{"t":14.25,"med":195,"q75":395,"q90":500,"mx":560},{"t":14.36,"med":182,"q75":400,"q90":460,"mx":500},{"t":14.49,"med":165,"q75":420,"q90":500,"mx":559},{"t":14.6,"med":150,"q75":430,"q90":460,"mx":480},{"t":14.72,"med":118,"q75":330,"q90":390,"mx":410},{"t":14.9,"med":100,"q75":393,"q90":450,"mx":465},{"t":15.08,"med":81,"q75":300,"q90":340,"mx":357},{"t":15.17,"med":70,"q75":330,"q90":380,"mx":410},{"t":15.26,"med":63,"q75":245,"q90":300,"mx":320},{"t":15.35,"med":54,"q75":150,"q90":200,"mx":250},{"t":15.4,"med":50,"q75":80,"q90":130,"mx":140},{"t":15.41,"med":0,"q75":30,"q90":122,"mx":140},{"t":15.47,"med":0,"q75":30,"q90":122,"mx":122},{"t":24,"med":0,"q75":30,"q90":122,"mx":122}
  ]},
  "layer": [
    {"mark": {"type": "area", "color": "#FFFDD2", "clip": true},
     "encoding": {
       "x": {"field": "t", "type": "quantitative", "scale": {"domain": [0, 24], "nice": false, "zero": false},
             "axis": {"orient": "bottom", "values": [0,1,2,3,4,5,6,7,8,9,10,11,12,13,14,15,16,17,18,19,20,21,22,23,24], "format": "d", "labelExpr": "datum.value % 5 === 0 ? datum.label : ''", "labelPadding": 11, "title": "Time [min]", "titlePadding": 2, "tickSize": {"condition": {"test": "datum.value % 5 === 0", "value": -6}, "value": -3}}},
       "y": {"field": "med", "type": "quantitative", "scale": {"domain": [-15, 1065], "nice": false, "zero": false},
             "axis": {"orient": "left", "values": [0,50,100,150,200,250,300,350,400,450,500,550,600,650,700,750,800,850,900,950,1000,1050], "format": "d", "labelExpr": "datum.value % 200 === 0 ? datum.label : ''", "labelPadding": 12, "title": "-AL [nT]", "titlePadding": 5, "tickSize": {"condition": {"test": "datum.value % 200 === 0", "value": -8}, "value": -4}}},
       "y2": {"field": "mx"}
     }},
    {"mark": {"type": "area", "color": "#FFFF9E", "clip": true},
     "encoding": {"x": {"field": "t", "type": "quantitative", "axis": null}, "y": {"field": "med", "type": "quantitative", "axis": null}, "y2": {"field": "q90"}}},
    {"mark": {"type": "area", "color": "#F4F430", "clip": true},
     "encoding": {"x": {"field": "t", "type": "quantitative", "axis": null}, "y": {"field": "med", "type": "quantitative", "axis": null}, "y2": {"field": "q75"}}},
    {"mark": {"type": "line", "color": "#FFD08A", "strokeWidth": 0.8, "clip": true},
     "encoding": {"x": {"field": "t", "type": "quantitative", "axis": null}, "y": {"field": "q90", "type": "quantitative", "axis": null}}},
    {"mark": {"type": "line", "color": "#FFB866", "strokeWidth": 1, "clip": true},
     "encoding": {"x": {"field": "t", "type": "quantitative", "axis": null}, "y": {"field": "mx", "type": "quantitative", "axis": null}}},
    {"mark": {"type": "line", "color": "#FF0000", "strokeWidth": 2.5, "clip": true},
     "encoding": {"x": {"field": "t", "type": "quantitative", "axis": null}, "y": {"field": "med", "type": "quantitative", "axis": null}}},
    {"mark": {"type": "point", "opacity": 0},
     "encoding": {
       "x": {"field": "t", "type": "quantitative",
             "axis": {"orient": "top", "values": [0,1,2,3,4,5,6,7,8,9,10,11,12,13,14,15,16,17,18,19,20,21,22,23,24], "labels": false, "title": null, "tickSize": {"condition": {"test": "datum.value % 5 === 0", "value": -6}, "value": -3}}},
       "y": {"field": "med", "type": "quantitative",
             "axis": {"orient": "right", "values": [0,50,100,150,200,250,300,350,400,450,500,550,600,650,700,750,800,850,900,950,1000,1050], "labels": false, "title": null, "tickSize": {"condition": {"test": "datum.value % 200 === 0", "value": -8}, "value": -4}}}
     }}
  ],
  "resolve": {"axis": {"x": "independent", "y": "independent"}}
}
]
}
